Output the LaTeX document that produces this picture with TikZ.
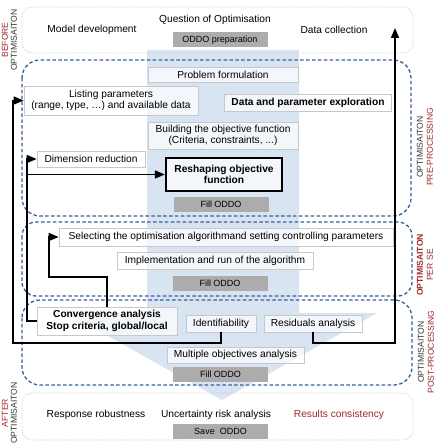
\documentclass[tikz,border=0pt]{standalone}
\usepackage{fontspec}
\setmainfont{Liberation Sans}
\usetikzlibrary{arrows.meta}
\definecolor{flowbg}{RGB}{216,228,242}
\definecolor{zoneB}{RGB}{55,95,150}
\definecolor{lblR}{RGB}{160,40,45}
\definecolor{lblG}{RGB}{55,55,55}
\definecolor{oddoG}{RGB}{172,172,172}
\definecolor{boxL}{RGB}{200,200,200}
\newcommand{\FT}{\fontsize{10.2}{11.6}\selectfont}
\newcommand{\FS}{\fontsize{8.6}{9.6}\selectfont}
\newcommand{\FO}{\fontsize{9}{10}\selectfont}

\begin{document}
\begin{tikzpicture}[
    x=1pt, y=-1pt,
    zone/.style={draw=zoneB, line width=1.3pt, dash pattern=on 3.5pt off 2.4pt, rounded corners=18pt},
    stage/.style={draw=boxL, line width=0.7pt, densely dotted, rounded corners=10pt},
    box/.style={draw=boxL, line width=0.7pt, fill=white, fill opacity=0.7, text opacity=1,
                inner sep=0pt, align=center, font=\FT},
    oddo/.style={fill=oddoG, minimum width=95pt, minimum height=15pt, inner sep=0pt, font=\FO},
    txt/.style={font=\FT, inner sep=0pt},
    side/.style={rotate=90, font=\FS, inner sep=0pt},
    flow/.style={draw=black, line width=1.5pt, -{Triangle[length=10pt,width=8pt]}},
  ]
  \useasboundingbox (0,0) rectangle (439,446);

  %% ================= background arrow =================
  \fill[flowbg] (147,50) -- (299,50) -- (299,313) -- (377,313) -- (222,400)
    -- (67,313) -- (147,313) -- cycle;

  %% ================= stages and zones =================
  \draw[stage] (22,7) rectangle (413,53);
  \draw[stage] (22,393) rectangle (413,440);
  \draw[zone] (22,60) rectangle (411,216);
  \draw[zone, rounded corners=14pt] (22,222) rectangle (412,296);
  \draw[zone] (22,300) rectangle (412,385);

  \node[side, text=lblR] (befA) at (5,40) {BEFORE};
  \node[side, text=lblG] (befB) at (14,40) {OPTIMISAITON};
  \node[side, text=lblR] (aftA) at (5,413) {AFTER};
  \node[side, text=lblG] (aftB) at (14,413) {OPTIMISAITON};
  \node[side, text=lblG] (preA) at (420,147) {OPTIMISAITON};
  \node[side, text=lblR] (preB) at (430,147) {PRE-PROCESSING};
  \node[side, text=lblR, font=\FS\bfseries] (perA) at (420,265) {OPTIMISAITON};
  \node[side, text=lblR] (perB) at (430,265) {PER SE};
  \node[side, text=lblG] (posA) at (421,352) {OPTIMISAITON};
  \node[side, text=lblR] (posB) at (431,352) {POST-PROCESSING};

  %% ---- before ----
  \node[txt] (modev) at (92,30) {Model development};
  \node[txt] (quest) at (215,20) {Question of Optimisation};
  \node[txt] (datcol) at (334,30) {Data collection};
  \node[oddo] (oddoprep) at (220,40) {ODDO preparation};
  \coordinate (dcend) at (395,28);

  %% ---- pre-processing ----
  \node[box, minimum width=150pt, minimum height=15pt] (probform) at (223,74.5) {Problem formulation};
  \node[box, minimum width=174pt, minimum height=29pt] (lstpar) at (111,100.5)
    {Listing parameters\\(range, type, …) and available data};
  \node[box, minimum width=167pt, minimum height=17pt, font=\FT\bfseries] (dataexp) at (308,103)
    {Data and parameter exploration};
  \node[box, minimum width=150pt, minimum height=27pt] (buildobj) at (223,135.5)
    {Building the objective function\\(Criteria, constraints, ...)};
  \node[box, minimum width=108pt, minimum height=16pt] (dimred) at (91,159) {Dimension reduction};
  \node[box, draw=black, line width=2.2pt, minimum width=116pt, minimum height=33pt,
        font=\FT\bfseries] (reshape) at (224,174.5) {Reshaping objective\\function};
  \node[oddo] (fill1) at (221,204.5) {Fill ODDO};

  %% ---- per se ----
  \node[box, minimum width=334pt, minimum height=18pt] (select) at (226,237)
    {Selecting the optimisation algorithmand setting controlling parameters};
  \node[box, minimum width=196pt, minimum height=17pt] (implrun) at (215,260.5)
    {Implementation and run of the algorithm};
  \node[oddo] (fill2) at (220,283) {Fill ODDO};

  %% ---- post-processing ----
  \node[box, minimum width=140pt, minimum height=28pt, font=\FT\bfseries] (conv) at (107,321)
    {Convergence analysis\\Stop criteria, global/local};
  \node[box, minimum width=70pt, minimum height=17pt] (ident) at (221,323.5) {Identifiability};
  \node[box, minimum width=98pt, minimum height=17pt] (resid) at (313,323.5) {Residuals analysis};
  \node[box, minimum width=137pt, minimum height=16pt] (multobj) at (235.5,355) {Multiple objectives analysis};
  \node[oddo] (fill3) at (220.5,374) {Fill ODDO};

  %% ---- after ----
  \node[txt] (respro) at (96,415) {Response robustness};
  \node[txt] (uncert) at (216,415) {Uncertainty risk analysis};
  \node[txt, text=lblR] (rescon) at (339,415) {Results consistency};
  \node[oddo] (saveoddo) at (220.5,431) {Save\ \ ODDO};

  %% ================= feedback loops =================
  \coordinate (lpL) at (13,343);
  \coordinate (lpR) at (395,343);
  \coordinate (cvL) at (27,321);
  \coordinate (slL) at (49,277);
  \draw[flow] (ident.south) |- (lpL) |- (lstpar.west);
  \draw[flow] (resid.south) |- (lpR) -- (dcend);
  \draw[flow] (conv.west) -- (cvL) |- (dimred.west);
  \draw[flow] (cvL |- reshape.west) -- (reshape.west);
  \draw[flow] (conv.north) |- (slL) |- (select.west);

\end{tikzpicture}
\end{document}
